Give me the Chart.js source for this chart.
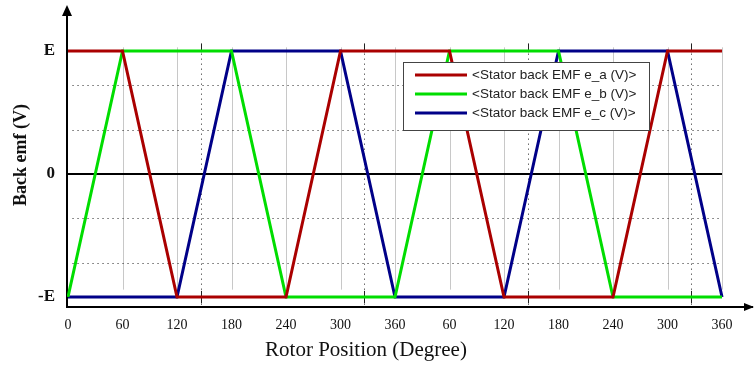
<!DOCTYPE html>
<html>
<head>
<meta charset="utf-8">
<script src="https://cdn.jsdelivr.net/npm/chart.js@4/dist/chart.umd.min.js"></script>
<style>
html, body { margin: 0; padding: 0; background: #fff; }
#wrap { width: 754px; height: 367px; position: relative; }
</style>
</head>
<body>
<div id="wrap"><canvas id="emf_chart"></canvas></div>
<script>
// rotor position breakpoints (degrees, two electrical turns) and back emf in units of E
const rotorDeg = [0, 60, 120, 180, 240, 300, 360, 420, 480, 540, 600, 660, 720];
const emfA = [1, 1, -1, -1, -1, 1, 1, 1, -1, -1, -1, 1, 1];
const emfB = [-1, 1, 1, 1, -1, -1, -1, 1, 1, 1, -1, -1, -1];
const emfC = [-1, -1, -1, 1, 1, 1, -1, -1, -1, 1, 1, 1, -1];

const seriesNames = ['<Stator back EMF e_a (V)>', '<Stator back EMF e_b (V)>', '<Stator back EMF e_c (V)>'];
const xTicks = [0, 60, 120, 180, 240, 300, 360, 420, 480, 540, 600, 660, 720];
const yTicks = [-1, 0, 1];
const yTickLabels = ['-E', '0', 'E'];
const dottedDeg = [146, 326, 506, 686];
const dottedLevels = [-0.72, -0.36, 0.36, 0.72];

const toPoints = vals => rotorDeg.map((d, i) => ({x: d, y: vals[i]}));

const serif = '"Liberation Serif", "Times New Roman", serif';

// grid of the original plot: grey lines each 60 deg, dotted major grid, bold zero line
const gridPlugin = {
    id: 'emfGrid',
    beforeDatasetsDraw(chart) {
        const {ctx, scales: {x, y}} = chart;
        ctx.save();
        ctx.lineWidth = 1;
        ctx.strokeStyle = '#c8c8c8';
        xTicks.slice(1).forEach(d => {
            const px = Math.round(x.getPixelForValue(d)) + 0.5;
            ctx.beginPath();
            ctx.moveTo(px, y.getPixelForValue(1.03));
            ctx.lineTo(px, y.getPixelForValue(-0.94));
            ctx.stroke();
        });
        ctx.strokeStyle = '#222';
        ctx.setLineDash([1, 4]);
        dottedLevels.forEach(v => {
            const py = Math.round(y.getPixelForValue(v)) + 0.5;
            ctx.beginPath();
            ctx.moveTo(x.getPixelForValue(5), py);
            ctx.lineTo(x.getPixelForValue(720), py);
            ctx.stroke();
        });
        dottedDeg.forEach(d => {
            const px = Math.round(x.getPixelForValue(d)) + 0.5;
            ctx.beginPath();
            ctx.moveTo(px, y.getPixelForValue(1.06));
            ctx.lineTo(px, y.bottom);
            ctx.stroke();
        });
        ctx.setLineDash([]);
        dottedDeg.forEach(d => {
            const px = Math.round(x.getPixelForValue(d)) + 0.5;
            ctx.beginPath();
            ctx.moveTo(px, y.getPixelForValue(1.06));
            ctx.lineTo(px, y.getPixelForValue(0.99));
            ctx.moveTo(px, y.getPixelForValue(-0.95));
            ctx.lineTo(px, y.getPixelForValue(-1.05));
            ctx.stroke();
        });
        ctx.strokeStyle = '#000';
        ctx.lineWidth = 2;
        const zy = Math.round(y.getPixelForValue(0));
        ctx.beginPath();
        ctx.moveTo(x.left, zy);
        ctx.lineTo(x.getPixelForValue(720), zy);
        ctx.stroke();
        ctx.restore();
    },
    afterDraw(chart) {
        const {ctx, chartArea: a, data} = chart;
        ctx.save();
        // axis arrows
        ctx.fillStyle = '#000';
        ctx.beginPath();
        ctx.moveTo(a.left, 5);
        ctx.lineTo(a.left - 5, 16);
        ctx.lineTo(a.left + 5, 16);
        ctx.closePath();
        ctx.fill();
        ctx.beginPath();
        ctx.moveTo(a.right + 2, a.bottom);
        ctx.lineTo(a.right - 8, a.bottom - 4);
        ctx.lineTo(a.right - 8, a.bottom + 4);
        ctx.closePath();
        ctx.fill();

        // axis titles
        ctx.fillStyle = '#111';
        ctx.textAlign = 'center';
        ctx.textBaseline = 'middle';
        ctx.font = '21px ' + serif;
        ctx.fillText('Rotor Position (Degree)', 366, 350);
        ctx.translate(21, 155);
        ctx.rotate(-Math.PI / 2);
        ctx.font = 'bold 18px ' + serif;
        ctx.fillText('Back emf (V)', 0, 0);
        ctx.setTransform(1, 0, 0, 1, 0, 0);

        // legend box
        const bx = 403, by = 62, bw = 246, bh = 68;
        ctx.fillStyle = '#fff';
        ctx.fillRect(bx, by, bw, bh);
        ctx.strokeStyle = '#444';
        ctx.lineWidth = 1;
        ctx.strokeRect(bx + 0.5, by + 0.5, bw, bh);
        ctx.font = '13.5px "Liberation Sans", Arial, sans-serif';
        ctx.textAlign = 'left';
        data.datasets.forEach((ds, i) => {
            const ry = by + 13 + i * 19;
            ctx.strokeStyle = ds.borderColor;
            ctx.lineWidth = 3;
            ctx.beginPath();
            ctx.moveTo(bx + 12, ry);
            ctx.lineTo(bx + 64, ry);
            ctx.stroke();
            ctx.fillStyle = '#222';
            ctx.fillText(ds.label, bx + 69, ry);
        });
        ctx.restore();
    }
};

const emfChart = new Chart(document.getElementById('emf_chart'), {
    type: 'line',
    data: {
        datasets: [
            {label: seriesNames[0], data: toPoints(emfA), borderColor: '#aa0000'},
            {label: seriesNames[1], data: toPoints(emfB), borderColor: '#00dd00'},
            {label: seriesNames[2], data: toPoints(emfC), borderColor: '#000088'}
        ]
    },
    options: {
        responsive: true,
        maintainAspectRatio: false,
        animation: false,
        layout: {padding: {top: 14, right: 2, left: 0, bottom: 0}},
        elements: {
            line: {borderWidth: 3, tension: 0},
            point: {radius: 0}
        },
        plugins: {
            legend: {display: false},
            tooltip: {enabled: false}
        },
        scales: {
            x: {
                type: 'linear',
                min: -1.1,
                max: 753,
                afterFit: s => { s.height = 60; s.paddingLeft = 0; s.paddingRight = 0; },
                afterBuildTicks: s => { s.ticks = xTicks.map(v => ({value: v})); },
                grid: {display: false, drawTicks: false},
                border: {display: true, color: '#000', width: 2},
                ticks: {
                    padding: 10,
                    color: '#111',
                    maxRotation: 0,
                    autoSkip: false,
                    font: {family: serif, size: 14},
                    callback: v => (v === 0 ? '0' : (v % 360 === 0 ? '360' : String(v % 360)))
                }
            },
            y: {
                min: -1.081,
                max: 1.301,
                afterFit: s => { s.width = 67; s.paddingTop = 0; s.paddingBottom = 0; },
                afterBuildTicks: s => { s.ticks = yTicks.map(v => ({value: v})); },
                grid: {display: false, drawTicks: false},
                border: {display: true, color: '#000', width: 2},
                ticks: {
                    padding: 12,
                    color: '#111',
                    font: {family: serif, size: 17, weight: 'bold'},
                    callback: v => yTickLabels[yTicks.indexOf(v)]
                }
            }
        }
    },
    plugins: [gridPlugin]
});
</script>
</body>
</html>
